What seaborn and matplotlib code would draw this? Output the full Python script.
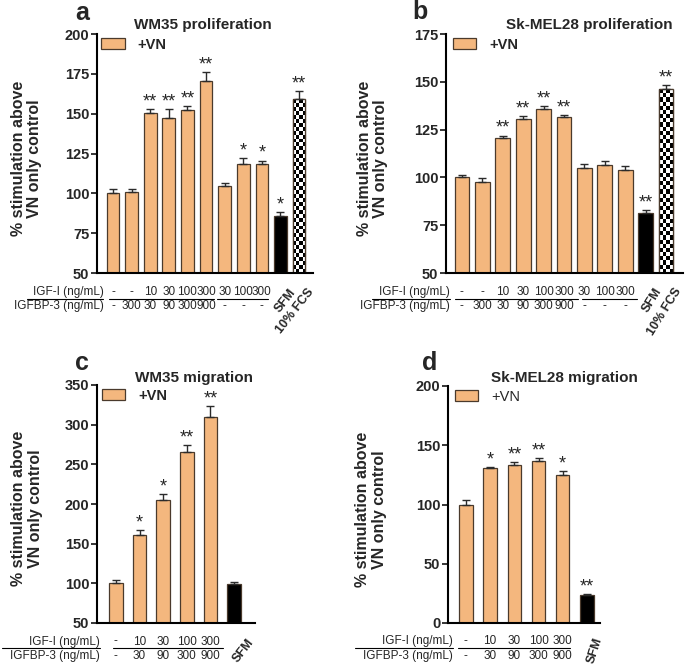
import numpy as np
import matplotlib
matplotlib.use('Agg')
import matplotlib.pyplot as plt
import matplotlib.transforms as mtransforms
from matplotlib.patches import Patch, Rectangle
import seaborn as sns

sns.set_style('ticks')
plt.rcParams['font.family'] = ['Liberation Sans', 'DejaVu Sans']

ORANGE = '#F4B77E'
EDGE = '#4a3a2c'

# panel a - WM35 proliferation
a_vals = [100, 100.6, 150.4, 147, 152.1, 170.8, 104.6, 118.3, 118.3, 86.0, 159.2]
a_err = [2.6, 1.9, 2.6, 6.0, 2.5, 5.2, 1.7, 3.8, 2.3, 2.0, 4.9]
a_stars = ['', '', '**', '**', '**', '**', '', '*', '*', '*', '**']
a_igf = ['-', '-', '10', '30', '100', '300', '30', '100', '300']
a_bp3 = ['-', '300', '30', '90', '300', '900', '-', '-', '-']

# panel b - Sk-MEL28 proliferation
b_vals = [100.2, 97.6, 120.6, 130.8, 136.0, 131.6, 105.1, 106.6, 104.0, 81.6, 146.2]
b_err = [1.2, 2.2, 1.3, 1.2, 1.4, 1.1, 1.7, 1.8, 1.8, 1.5, 2.1]
b_stars = ['', '', '**', '**', '**', '**', '', '', '', '**', '**']
b_igf = ['-', '-', '10', '30', '100', '300', '30', '100', '300']
b_bp3 = ['-', '300', '30', '90', '300', '900', '-', '-', '-']

# panel c - WM35 migration
c_vals = [100, 161.2, 205.2, 265.5, 310, 98.7]
c_err = [4.6, 5.5, 7.6, 8.5, 13, 3.0]
c_stars = ['', '*', '*', '**', '**', '']
c_igf = ['-', '10', '30', '100', '300']
c_bp3 = ['-', '30', '90', '300', '900']

# panel d - Sk-MEL28 migration
d_vals = [100, 130.8, 133.6, 137.0, 124.6, 23.8]
d_err = [3.4, 0.9, 2.3, 2.2, 4.0, 0.8]
d_stars = ['', '*', '**', '**', '*', '**']
d_igf = ['-', '10', '30', '100', '300']
d_bp3 = ['-', '30', '90', '300', '900']

prolif_extra = ['SFM', '10% FCS']
migr_extra = ['SFM']


def panel(fig, rect, vals, errs, stars, igf, bp3, extra, groups, ylim, ystep,
          xlim, width, title, title_xy, letter, letter_xy, ylab_x, leg_x,
          lab_x, lab_line, rot, extra_dx, leg_bold=True):
    ax = fig.add_axes(rect)
    n = len(vals)
    names = [str(i) for i in range(n)]
    colors = [ORANGE] * len(igf) + ['black'] + ['white'] * (len(extra) - 1)
    sns.barplot(x=names, y=vals, hue=names, palette=dict(zip(names, colors)),
                legend=False, width=width, edgecolor=EDGE, linewidth=0.9,
                saturation=1, errorbar=None, ax=ax)
    ax.errorbar(range(n), vals, yerr=[np.zeros(n), errs], fmt='none',
                ecolor='#2b2b2b', elinewidth=1, capsize=2.6, capthick=1, zorder=3)

    # checkered bar for 10% FCS
    if len(extra) > 1:
        i = n - 1
        cells = np.indices((44, 4)).sum(axis=0) % 2
        ax.imshow(cells, cmap='gray', extent=(i - width / 2, i + width / 2, ylim[0], vals[i]),
                  aspect='auto', interpolation='nearest', zorder=2)
        ax.add_patch(Rectangle((i - width / 2, ylim[0]), width, vals[i] - ylim[0],
                               fill=False, edgecolor=EDGE, linewidth=0.9, zorder=2.5))

    for i, s in enumerate(stars):
        if s:
            ax.annotate(s, (i, vals[i] + errs[i]), xytext=(0, -1), textcoords='offset points',
                        ha='center', va='bottom', fontsize=13)

    ax.set_xlim(xlim)
    ax.set_ylim(ylim)
    ax.set_yticks(np.arange(ylim[0], ylim[1] + 1, ystep))
    ax.set_xticks([])
    ax.set_xlabel('')
    ax.set_ylabel('')
    for lab in ax.get_yticklabels():
        lab.set_fontweight('bold')
    ax.tick_params(axis='y', labelsize=10.5, length=4, width=1.3, pad=1.5)
    sns.despine(ax=ax)
    for sp in ('left', 'bottom'):
        ax.spines[sp].set_linewidth(1.5)
        ax.spines[sp].set_color('black')

    ax.text(ylab_x, 0.48, '% stimulation above\nVN only control', transform=ax.transAxes,
            rotation=90, ha='center', va='center', fontsize=11.5, fontweight='bold',
            linespacing=1.1)

    ax.legend(handles=[Patch(facecolor=ORANGE, edgecolor=EDGE, linewidth=0.9)],
              labels=['+VN'], loc='upper left', bbox_to_anchor=(leg_x, 0.985),
              frameon=False, borderpad=0, borderaxespad=0, handlelength=1.6,
              handleheight=0.75, handletextpad=0.9,
              prop={'size': 10.5, 'weight': 'bold' if leg_bold else 'normal'})

    # treatment table under the bars
    tr = mtransforms.blended_transform_factory(ax.transData, ax.transAxes)
    for i, (g, b) in enumerate(zip(igf, bp3)):
        ax.text(i, -0.078, g, transform=tr, ha='center', va='center', fontsize=8.5)
        ax.text(i, -0.138, b, transform=tr, ha='center', va='center', fontsize=8.5)
    ax.text(lab_x, -0.078, 'IGF-I (ng/mL)', transform=ax.transAxes, ha='right',
            va='center', fontsize=8.5)
    ax.text(lab_x, -0.138, 'IGFBP-3 (ng/mL)', transform=ax.transAxes, ha='right',
            va='center', fontsize=8.5)
    ax.plot(lab_line, [-0.107, -0.107], transform=ax.transAxes, color='black',
            lw=0.8, clip_on=False)
    for g0, g1 in groups:
        ax.plot([g0, g1], [-0.107, -0.107], transform=tr, color='black', lw=0.8,
                clip_on=False)
    for k, lab in enumerate(extra):
        i = len(igf) + k
        ax.text(i + extra_dx, -0.055, lab, transform=tr, rotation=rot, ha='right',
                va='top', rotation_mode='anchor', fontsize=9, fontweight='bold')

    fig.text(title_xy[0], title_xy[1], title, ha='center', va='center',
             fontsize=11, fontweight='bold')
    fig.text(letter_xy[0], letter_xy[1], letter, ha='center', va='center',
             fontsize=18, fontweight='bold')
    return ax


fig = plt.figure(figsize=(6.85, 6.69), dpi=100)
W, H = 685, 669

panel(fig, [97 / W, 1 - 273 / H, 216 / W, 239 / H], a_vals, a_err, a_stars, a_igf, a_bp3,
      prolif_extra, [(-0.2, 5.45), (5.6, 8.35)], (50, 200), 25, (-0.86, 10.75), 0.68,
      'WM35 proliferation', (203 / W, 1 - 25 / H), 'a', (82 / W, 1 - 13 / H),
      -0.325, 0.02, 0.03, [-0.325, 0.028], 52, 0.45)

panel(fig, [446 / W, 1 - 273 / H, 237 / W, 239 / H], b_vals, b_err, b_stars, b_igf, b_bp3,
      prolif_extra, [(-0.34, 5.69), (5.88, 8.58)], (50, 175), 25, (-0.78, 10.83), 0.72,
      'Sk-MEL28 proliferation', (589 / W, 1 - 25 / H), 'b', (420 / W, 1 - 12 / H),
      -0.31, 0.028, 0.018, [-0.312, 0.017], 58, 0.4)

panel(fig, [97 / W, 1 - 623 / H, 158 / W, 238 / H], c_vals, c_err, c_stars, c_igf, c_bp3,
      migr_extra, [(-0.13, 4.53)], (50, 350), 50, (-0.8, 5.89), 0.58,
      'WM35 migration', (194 / W, 1 - 378 / H), 'c', (82 / W, 1 - 363 / H),
      -0.443, 0.03, 0.02, [-0.601, 0.019], 52, 0.55)

panel(fig, [448 / W, 1 - 623 / H, 152 / W, 237 / H], d_vals, d_err, d_stars, d_igf, d_bp3,
      migr_extra, [(-0.33, 4.3)], (0, 200), 50, (-0.74, 5.54), 0.55,
      'Sk-MEL28 migration', (564 / W, 1 - 378 / H), 'd', (430 / W, 1 - 363 / H),
      -0.507, 0.045, 0.033, [-0.612, 0.033], 72, 0.25, leg_bold=False)

fig.savefig('out.png', dpi=100)
